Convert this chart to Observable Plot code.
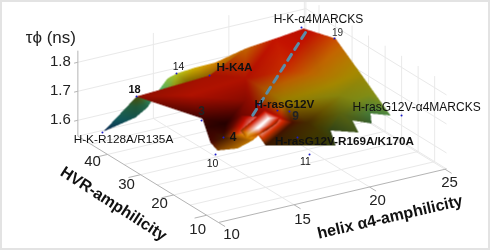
<!DOCTYPE html>
<html><head><meta charset="utf-8">
<style>
html,body{margin:0;padding:0;background:#e3e3e3;}
#c{width:490px;height:250px;overflow:hidden;}
#c svg{display:block;background:#fff;clip-path:inset(2px 2px 2px 2px);filter:blur(.3px);}
</style>
<script src="https://cdn.jsdelivr.net/npm/d3@7"></script>
<script src="https://cdn.jsdelivr.net/npm/@observablehq/plot@0.6"></script>
</head><body><div id="c"></div>
<script>
// Surface vertices
const helix=[11.26,13.08,12.75,13.65,15.28,16.19,16.79,17.49,18.38,20.69,16.68,11.04,16.18,12.03,13.70,22.22,24.12,25.55,24.98,24.21,17.67,20.43,22.40,15.72,19.13,22.70,23.96,12.52,14.09,11.47,10.99,11.38,12.72,14.07,14.29,13.85,19.01,19.94,21.12,21.77,22.68,23.41,16.30,15.64,14.46,14.42,16.71,18.10,21.52,12.46,16.08,14.72,13.82,15.86,14.84,14.42,13.94,15.54,15.97];
const hvr=[46.97,45.30,44.10,44.60,48.71,50.16,50.15,47.60,45.64,47.08,38.75,35.99,37.36,20.55,31.83,45.03,45.21,42.07,30.98,19.30,33.27,33.81,32.20,24.39,28.45,27.52,24.22,15.80,18.43,17.08,13.38,13.05,13.11,14.71,13.92,9.76,12.17,17.94,14.89,19.67,18.04,21.69,16.43,17.08,14.70,17.55,14.67,16.52,22.14,16.15,20.27,17.71,17.22,15.66,14.01,14.20,15.93,47.80,43.10];
const tau=[1.56,1.67,1.61,1.63,1.64,1.66,1.67,1.70,1.72,1.73,1.72,1.76,1.76,1.78,1.76,1.76,1.77,1.74,1.69,1.65,1.76,1.75,1.72,1.77,1.70,1.68,1.66,1.79,1.78,1.78,1.76,1.73,1.72,1.72,1.74,1.74,1.66,1.66,1.66,1.66,1.65,1.65,1.76,1.76,1.76,1.72,1.75,1.72,1.67,1.74,1.76,1.76,1.74,1.75,1.75,1.74,1.72,1.65,1.70];
const light=[.8,.4,.55,.6,1,1,1,1,1,.9,.45,.7,.8,.35,.85,.95,.95,.95,.75,.72,.85,.95,.85,.7,.72,.7,.7,.22,.6,.28,.35,.6,.85,.9,1,.25,.3,.35,.45,.5,.5,.65,.9,2,2.1,1.3,.35,.32,.5,.3,.85,.8,.6,.6,.5,.8,.9,.9,.6];
const faces=[[0,1,2],[1,2,3],[1,3,4],[1,4,57],[4,5,57],[5,6,57],[6,58,57],[6,7,58],[7,10,58],[7,8,10],[8,9,10],
[11,12,14],[11,14,13],[14,12,20],[14,20,23],[14,23,13],[13,23,27],[23,28,27],[12,9,20],[9,15,20],[15,21,20],[15,16,21],[16,22,21],[16,17,22],[17,18,22],[18,25,22],[18,26,25],[18,19,26],[20,21,24],[20,24,23],[21,22,24],[22,25,24],[23,24,42],[23,42,28],[24,46,42],[24,47,46],[24,25,47],[25,48,47],[25,26,48],[26,41,48],[26,19,41],
[13,27,29],[29,27,49],[29,49,30],[30,49,31],[49,31,32],[49,32,33],[27,28,49],[28,44,49],[28,43,44],[28,42,43],[49,44,45],[49,45,33],[45,44,34],[45,34,33],[42,46,43],[43,46,44],[44,46,35],[44,35,34],[46,47,35],[47,36,35],[47,37,36],[47,48,37],[48,38,37],[48,39,38],[48,41,40],[48,40,39],
[42,50,43],[50,51,43],[51,44,43],[51,52,44],[52,45,44],[52,56,45],[42,43,53],[53,43,44],[53,44,54],[54,44,55],[55,44,45],[55,45,56]];

// Measured constructs
const pointNames=["18","14","H-K4A","3","H-K-α4MARCKS","19","H-K-R128A/R135A","H-rasG12V","","9","H-rasG12V-α4MARCKS","H-rasG12V-R169A/K170A","11","10","4"];
const pointHelix=[13.08,16.79,16.18,11.83,24.10,25.50,11.13,16.71,17.15,18.10,25.19,17.36,18.42,13.92,12.46];
const pointHvr=[45.30,50.15,37.36,19.91,45.74,42.16,46.70,24.99,21.25,21.95,20.44,16.15,17.35,25.23,16.15];
const pointTau=[1.67,1.67,1.76,1.78,1.77,1.74,1.56,1.74,1.74,1.72,1.63,1.68,1.60,1.60,1.74];

// Dashed trend across the surface
const trendHelix=[23.90,15.57];
const trendHvr=[43.62,21.56];
const trendTau=[1.77,1.74];

// Axes
const helixTicks=[10,15,20,25];
const hvrTicks=[10,20,30,40];
const tauTicks=[1.6,1.7,1.8];
const helixGrid=[15,20,25];
const hvrGrid=[10,15,20,25,30,35,40,45];
const helixTitle="helix α4-amphilicity";
const hvrTitle="HVR-amphilicity";
const tauTitle="τϕ (ns)";

// 3-D view
const box={hMin:10,hMax:25.1,aMin:6.42,aMax:48.98,tMin:1.545,tMax:1.84};
const px=(h,a)=>206.16+15.1*(h-10)-3.304*(a-10);
const py=(h,a,t)=>214.74-3.55*(h-10)-2.027*(a-10)-290*(t-1.545);
const P=(h,a,t)=>({x:px(h,a),y:py(h,a,t)});
const seg=(h1,a1,t1,h2,a2,t2)=>({x1:px(h1,a1),y1:py(h1,a1,t1),x2:px(h2,a2),y2:py(h2,a2,t2)});

// colour of the surface
const ramp=d3.scaleLinear().domain([1.56,1.60,1.64,1.67,1.70,1.73,1.76,1.80])
 .range(["#08265f","#1c8a8e","#46b878","#b4c41e","#d4ae00","#d87000","#cf1400","#a00000"]).clamp(true);
const LUT=d3.range(257).map(i=>{const c=d3.rgb(ramp(1.56+.24*i/256));return [c.r,c.g,c.b];});
const verts=helix.map((h,i)=>({x:px(h,hvr[i]),y:py(h,hvr[i],tau[i]),t:tau[i],l:light[i]}));
const tris=faces.map(([a,b,c])=>{const A=verts[a],B=verts[b],C=verts[c];
  return {A,B,C,d:(B.y-C.y)*(A.x-C.x)+(C.x-B.x)*(A.y-C.y),
    x0:Math.min(A.x,B.x,C.x),x1:Math.max(A.x,B.x,C.x),y0:Math.min(A.y,B.y,C.y),y1:Math.max(A.y,B.y,C.y)};});
function surface(x,y){
  for(let i=tris.length-1;i>=0;--i){const T=tris[i];
    if(x<T.x0||x>T.x1||y<T.y0||y>T.y1)continue;
    const w1=((T.B.y-T.C.y)*(x-T.C.x)+(T.C.x-T.B.x)*(y-T.C.y))/T.d;
    const w2=((T.C.y-T.A.y)*(x-T.C.x)+(T.A.x-T.C.x)*(y-T.C.y))/T.d;
    const w3=1-w1-w2;
    if(w1<-1e-6||w2<-1e-6||w3<-1e-6)continue;
    const t=w1*T.A.t+w2*T.B.t+w3*T.C.t,l=w1*T.A.l+w2*T.B.l+w3*T.C.l;
    const c=LUT[Math.max(0,Math.min(256,Math.round((t-1.56)/.24*256)))];
    const f=v=>Math.round(l<=1?v*l:v+(255-v)*Math.min(1,l-1));
    return `rgb(${f(c[0])},${f(c[1])},${f(c[2])})`;
  }
  return null;
}

// walls and floor grid
const {hMin,hMax,aMin,aMax,tMin,tMax}=box;
const grid=[
  ...helixGrid.map(h=>seg(h,aMin,tMin,h,aMax,tMin)),
  ...hvrGrid.map(a=>seg(hMin,a,tMin,hMax,a,tMin)),
  ...helixGrid.map(h=>seg(h,aMax,tMin,h,aMax,tMax)),
  ...hvrGrid.map(a=>seg(hMax,a,tMin,hMax,a,tMax)),
  seg(hMax,aMax,tMin,hMax,aMax,tMax),
  seg(hMin,aMax,tMin,hMax,aMax,tMin),seg(hMax,aMin,tMin,hMax,aMax,tMin),
  ...tauTicks.map(t=>seg(hMin,aMax,t,hMax,aMax,t)),
  ...tauTicks.map(t=>seg(hMax,aMin,t,hMax,aMax,t))
];
const axes=[
  seg(hMin,aMax,tMin,hMin,aMax,tMax),
  seg(hMin,aMin,tMin,hMin,aMax,tMin),
  seg(hMin,aMin,tMin,hMax,aMin,tMin),
  ...tauTicks.map(t=>seg(hMin-.25,aMax,t,hMin,aMax,t)),
  ...hvrTicks.map(a=>seg(hMin-.8,a,tMin,hMin,a,tMin)),
  ...helixTicks.map(h=>seg(h,aMin-2,tMin,h,aMin,tMin))
];
const points=pointNames.map((name,i)=>({name,...P(pointHelix[i],pointHvr[i],pointTau[i])}));
const trend=trendHelix.map((h,i)=>P(h,trendHvr[i],trendTau[i]));

// label placement: [dx, dy, size, weight, colour]
const place={
 "18":[-2,-7,11,"bold","#111"],"14":[2,-7,10.5,"normal","#111"],"H-K4A":[25,-8,11.8,"bold","#111"],
 "3":[0,-9,12,"bold","#222"],"H-K-α4MARCKS":[17,-8,12,"normal","#111"],"19":[3,-6,10,"normal","#333"],
 "H-K-R128A/R135A":[21,7,11.8,"normal","#111"],"H-rasG12V":[26,0,11.7,"bold","#111"],
 "9":[6,5,12,"bold","#222"],"H-rasG12V-α4MARCKS":[15,-8.5,12,"normal","#111"],
 "H-rasG12V-R169A/K170A":[47,4,11.7,"bold","#111"],"11":[-4,7,10.5,"normal","#111"],
 "10":[-3,9,10.5,"normal","#111"],"4":[9.5,0,12,"bold","#111"]
};
const helixNudge=[[13,12],[8.5,14],[8,13.5],[4.5,13]];
const hvrNudge=[[-9,14],[-14,8.5],[-14,9],[-15,7]];
const font="Liberation Sans, Helvetica, Arial, sans-serif";
const txt=(d,o)=>Plot.text(d,{x:"x",y:"y",fontFamily:font,...o});

const chart=Plot.plot({
  width:490,height:250,margin:0,
  x:{domain:[0,490],range:[0,490],axis:null},
  y:{domain:[0,250],range:[0,250],axis:null},
  color:{type:"identity"},
  style:{background:"#fff"},
  marks:[
    Plot.link(grid,{x1:"x1",y1:"y1",x2:"x2",y2:"y2",stroke:"#e9e9e9",strokeWidth:1}),
    Plot.link(axes,{x1:"x1",y1:"y1",x2:"x2",y2:"y2",stroke:"#b4b4b4",strokeWidth:1}),
    Plot.raster({x1:95,x2:400,y1:20,y2:160,pixelSize:.5,fill:(x,y)=>surface(x,y)}),
    Plot.line(trend,{x:"x",y:"y",stroke:"#5a8ca8",strokeWidth:3,strokeDasharray:"7,6"}),
    Plot.dot(points,{x:"x",y:"y",r:1,fill:"#1c1cc8"}),
    ...points.filter(p=>p.name).map(p=>{const [dx,dy,s,w,c]=place[p.name];
      return txt([p],{text:"name",dx,dy,fontSize:s,fontWeight:w,fill:c});}),
    ...tauTicks.map(t=>txt([P(hMin,aMax,t)],{text:()=>t.toFixed(1),dx:-7,dy:-1,textAnchor:"end",fontSize:15,fill:"#222"})),
    ...helixTicks.map((h,i)=>txt([P(h,aMin,tMin)],{text:()=>String(h),dx:helixNudge[i][0],dy:helixNudge[i][1],fontSize:15,fill:"#222"})),
    ...hvrTicks.map((a,i)=>txt([P(hMin,a,tMin)],{text:()=>String(a),dx:hvrNudge[i][0],dy:hvrNudge[i][1],fontSize:15,fill:"#222"})),
    txt([P(hMin,aMax,tMax)],{text:()=>tauTitle,dx:-27,dy:-13,fontSize:17,fill:"#222"}),
    txt([P(hMin,30,tMin)],{text:()=>hvrTitle,dx:-27,dy:29,rotate:32.8,fontSize:16,fontWeight:"bold",fill:"#111"}),
    txt([P(20,aMin,tMin)],{text:()=>helixTitle,dx:20.5,dy:30,rotate:-13,fontSize:16,fontWeight:"bold",fill:"#111"})
  ]
});
document.getElementById("c").append(chart);
</script>
</body></html>
